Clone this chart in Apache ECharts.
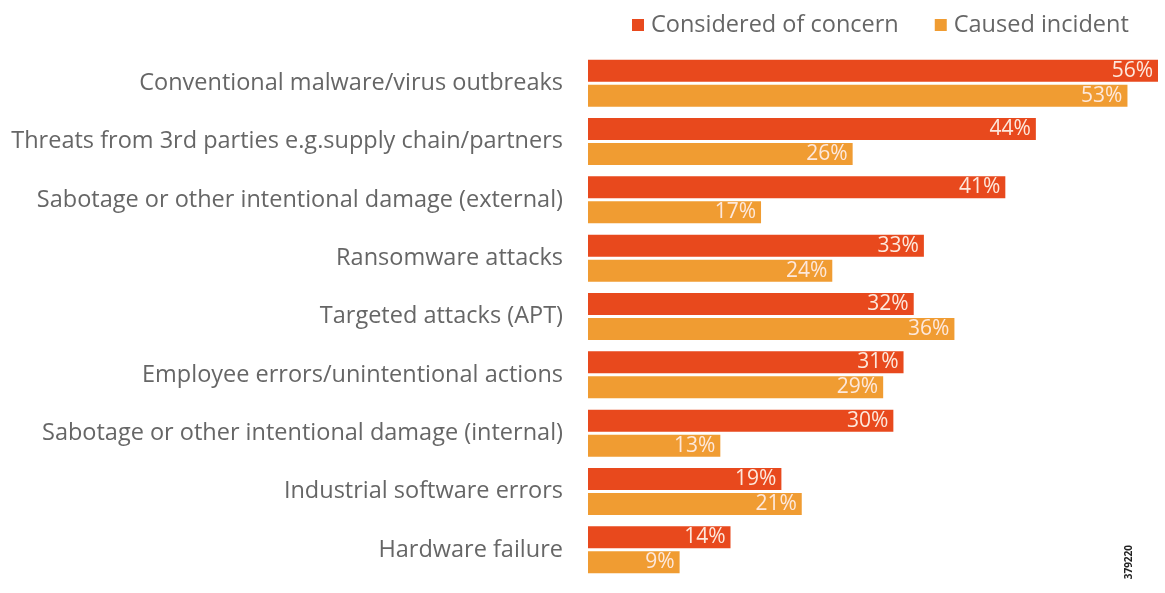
<!DOCTYPE html>
<html><head><meta charset="utf-8">
<script src="https://cdn.jsdelivr.net/npm/echarts@6/dist/echarts.min.js"></script>
<style>html,body{margin:0;padding:0;background:#fff}#c{width:1165px;height:593px}</style>
</head><body><div id="c"></div>
<script>
const categories = [
  "Conventional malware/virus outbreaks",
  "Threats from 3rd parties e.g.supply chain/partners",
  "Sabotage or other intentional damage (external)",
  "Ransomware attacks",
  "Targeted attacks (APT)",
  "Employee errors/unintentional actions",
  "Sabotage or other intentional damage (internal)",
  "Industrial software errors",
  "Hardware failure"
];
const concern = [56, 44, 41, 33, 32, 31, 30, 19, 14];
const incident = [53, 26, 17, 24, 36, 29, 13, 21, 9];
const seriesNames = ["Considered of concern", "Caused incident"];
const docId = "379220";

const chart = echarts.init(document.getElementById('c'));
const lbl = {show: true, position: 'insideRight', distance: 5, color: '#fde8dc', fontSize: 21, fontFamily: 'Open Sans', formatter: p => p.value + '%'};
chart.setOption({
  animation: false,
  textStyle: {fontFamily: 'Open Sans'},
  legend: {
    top: 8, left: 627, itemWidth: 12, itemHeight: 12, itemGap: 36,
    textStyle: {fontSize: 23.5, color: '#666', fontFamily: 'Open Sans', padding: [0, 0, 0, 2]},
    icon: 'rect',
    data: seriesNames
  },
  grid: {left: 588, right: 7, top: 54, bottom: 14, containLabel: false},
  xAxis: {type: 'value', min: 0, max: 56, show: false},
  yAxis: {
    type: 'category', inverse: true, data: categories,
    axisLine: {show: false}, axisTick: {show: false},
    axisLabel: {fontSize: 23.5, color: '#666', margin: 25, fontFamily: 'Open Sans'}
  },
  series: [
    {name: seriesNames[0], type: 'bar', data: concern, barWidth: 22, barGap: '14%', itemStyle: {color: '#e8491d'}, label: lbl},
    {name: seriesNames[1], type: 'bar', data: incident, barWidth: 22, itemStyle: {color: '#f09c32'}, label: lbl}
  ],
  graphic: [{
    type: 'text', left: 1124, top: 545, rotation: Math.PI / 2,
    style: {text: docId, fontSize: 10, fontWeight: 'bold', fill: '#222', fontFamily: 'Open Sans'}
  }]
});
</script></body></html>
